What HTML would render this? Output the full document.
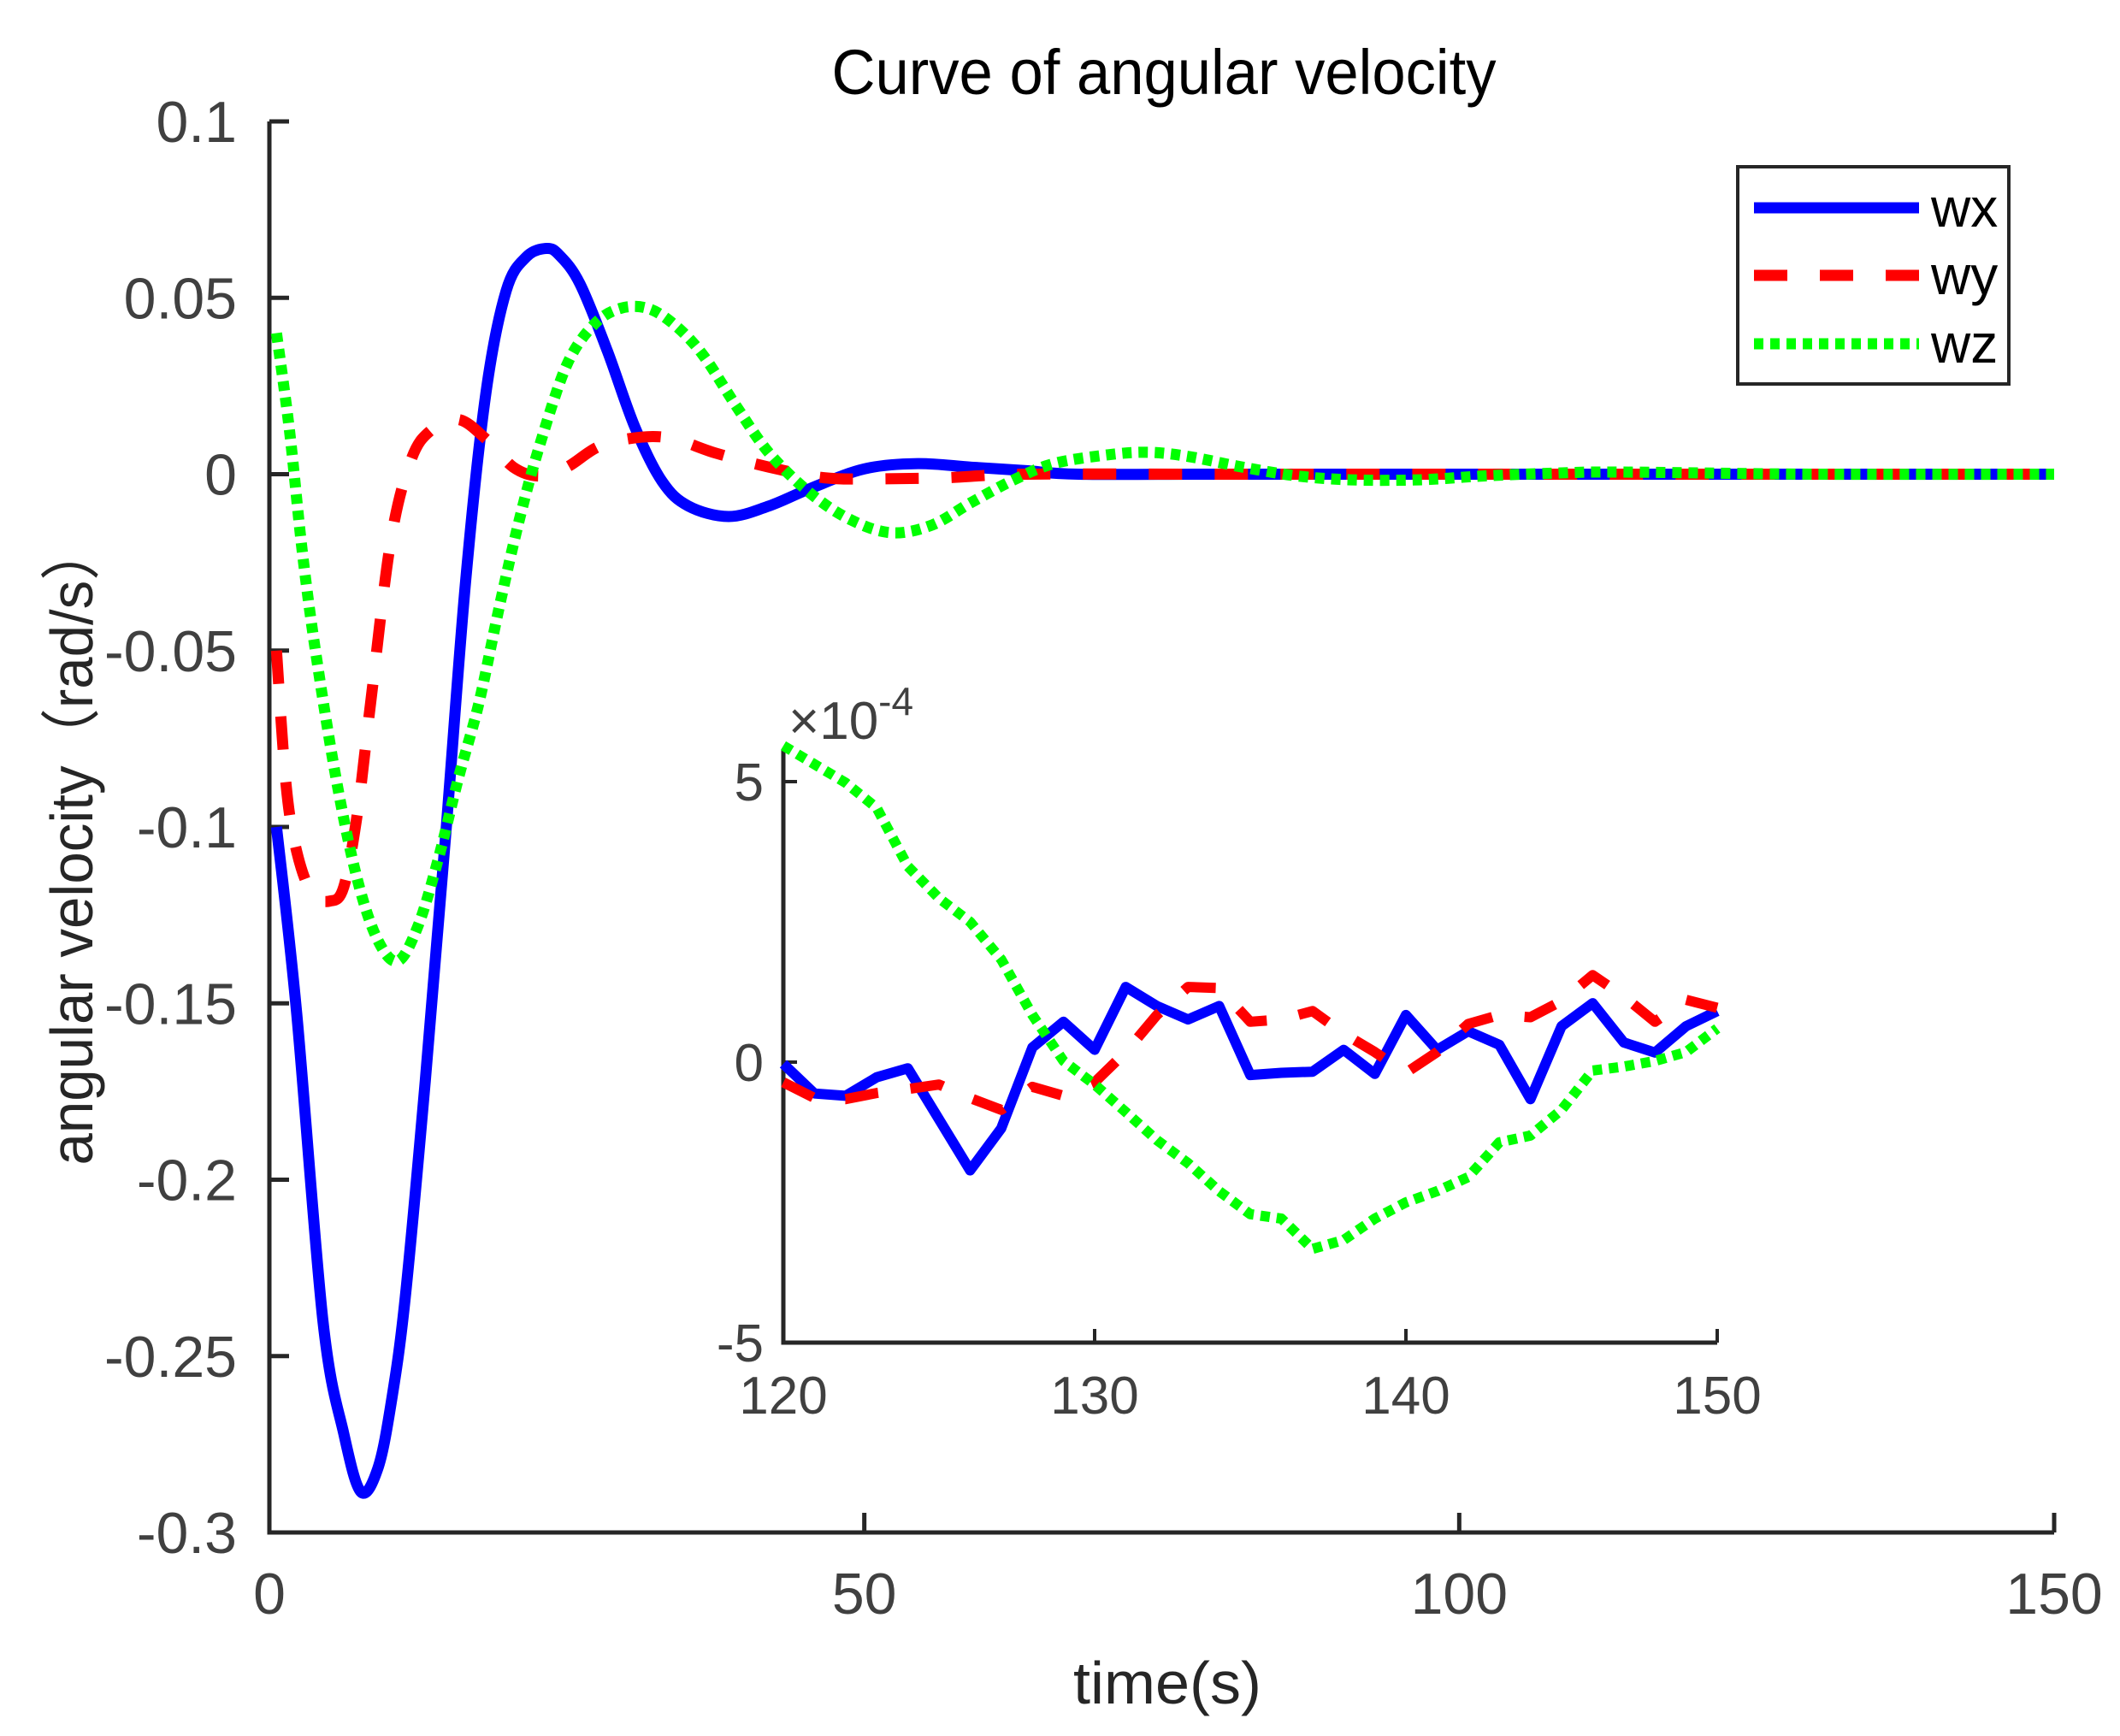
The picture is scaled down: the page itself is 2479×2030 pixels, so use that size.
<!DOCTYPE html>
<html><head><meta charset="utf-8"><style>
html,body{margin:0;padding:0;background:#fff;}
svg{display:block;}
text{font-family:"Liberation Sans","Noto Sans CJK SC",sans-serif;}
</style></head>
<body>
<svg id="chart" width="2479" height="2030" viewBox="0 0 2479 2030" xmlns="http://www.w3.org/2000/svg">
<rect width="2479" height="2030" fill="#fff"/>
<text x="1361" y="110" font-size="74" text-anchor="middle" textLength="777" lengthAdjust="spacingAndGlyphs" fill="#000">Curve of angular velocity</text>
<text x="1365" y="1992" font-size="70" text-anchor="middle" textLength="220" lengthAdjust="spacingAndGlyphs" fill="#262626">time(s)</text>
<text transform="translate(108,987) rotate(-90)" font-size="70" text-anchor="middle" textLength="751" lengthAdjust="spacingAndGlyphs" fill="#262626">angular velocity（rad/s）</text>
<g id="main"></g>
<g id="inset"></g>
<g id="legend">
<rect x="2032" y="195" width="317" height="254" fill="#fff" stroke="#262626" stroke-width="4"/>
<line x1="2051" y1="243" x2="2244" y2="243" stroke="#0000ff" stroke-width="13"/>
<text x="2258" y="265" font-size="64" fill="#000">wx</text>
<line x1="2051" y1="322" x2="2244" y2="322" stroke="#ff0000" stroke-width="13" stroke-dasharray="39,38"/>
<text x="2258" y="344" font-size="64" fill="#000">wy</text>
<line x1="2051" y1="402" x2="2244" y2="402" stroke="#00ff00" stroke-width="13" stroke-dasharray="11,8"/>
<text x="2258" y="424" font-size="64" fill="#000">wz</text>
</g>
</svg>
<script>
// main chart data
const mainXTicks = [0, 50, 100, 150];
const mainYTicks = [0.1, 0.05, 0, -0.05, -0.1, -0.15, -0.2, -0.25, -0.3];
const mainYTickLabels = ["0.1", "0.05", "0", "-0.05", "-0.1", "-0.15", "-0.2", "-0.25", "-0.3"];
const wxT = [0.6,2.3,4.5,6.25,7.7,9.1,10.2,11.4,13.1,14.8,16.5,18.2,19.9,21.6,23.3,24.4,26.1,28.4,30.7,33,35.2,38.6,42,45.5,50,54.5,59,63.6,68,80,100,120,150];
const wxV = [-0.1,-0.153,-0.24,-0.272,-0.2885,-0.282,-0.264,-0.234,-0.172,-0.103,-0.03,0.023,0.052,0.0616,0.064,0.062,0.054,0.035,0.0135,-0.002,-0.009,-0.012,-0.009,-0.004,0.0015,0.003,0.002,0.001,0,0,0,0,0];
const wyT = [0.6,1.4,2.3,3.6,5.1,6.25,7.4,8.5,10.2,11.9,13.6,15.9,18.2,20.5,22.7,25,27.8,31.25,34,37.5,42,46.6,51,56.8,63.6,80,100,120,150];
const wyV = [-0.05,-0.088,-0.107,-0.119,-0.121,-0.117,-0.096,-0.065,-0.019,0.004,0.0125,0.0155,0.01,0.002,-0.0005,0.002,0.008,0.0105,0.01,0.006,0.002,-0.001,-0.0013,-0.001,0,0,0,0,0];
const wzT = [0.6,1.7,2.8,4,5.7,7.4,9.1,10.8,12.5,14.2,15.9,17.6,19.3,21,22.7,25,27.3,29.5,31.8,34,36.4,39.2,42,45.5,48.9,52.3,55.7,59,62.5,65.9,70.5,73.9,77.3,81.8,86.4,90.9,96.6,102,108,113.6,130,150];
const wzV = [0.04,0.012,-0.023,-0.053,-0.088,-0.115,-0.132,-0.138,-0.128,-0.109,-0.086,-0.065,-0.038,-0.013,0.008,0.031,0.0425,0.047,0.047,0.0425,0.034,0.0195,0.006,-0.0055,-0.013,-0.0166,-0.0144,-0.008,-0.0017,0.003,0.0055,0.0062,0.005,0.002,-0.0005,-0.0016,-0.0016,-0.0005,0.0003,0.0006,0,0];
// inset data (x10^-4)
const insT = [120,121,122,123,124,125,126,127,128,129,130,131,132,133,134,135,136,137,138,139,140,141,142,143,144,145,146,147,148,149,150];
const insXTicks = [120, 130, 140, 150];
const insYTicks = [5, 0, -5];
const insWx = [-0.03,-0.56,-0.6,-0.27,-0.11,-1.02,-1.93,-1.18,0.26,0.72,0.22,1.34,1.0,0.76,1.0,-0.23,-0.19,-0.17,0.22,-0.21,0.84,0.22,0.55,0.31,-0.66,0.64,1.05,0.35,0.17,0.64,0.91];
const insWy = [-0.36,-0.64,-0.66,-0.55,-0.48,-0.40,-0.64,-0.85,-0.44,-0.6,-0.36,0.18,0.84,1.34,1.32,0.72,0.76,0.91,0.51,0.18,-0.19,0.18,0.68,0.84,0.80,1.09,1.55,1.17,0.72,1.11,0.97];
const insWz = [5.64,5.31,4.98,4.53,3.49,2.92,2.5,1.83,0.84,0.02,-0.40,-0.89,-1.39,-1.80,-2.30,-2.71,-2.79,-3.33,-3.17,-2.79,-2.50,-2.30,-2.05,-1.43,-1.31,-0.85,-0.15,-0.08,0.02,0.18,0.60];

const NS = "http://www.w3.org/2000/svg";
function mk(tag, attrs, parent) {
  const e = document.createElementNS(NS, tag);
  for (const k in attrs) e.setAttribute(k, attrs[k]);
  parent.appendChild(e);
  return e;
}
const mx = v => 315 + (v - 0) / 150 * (2402 - 315);
const my = v => 142 + (0.1 - v) / 0.4 * (1792 - 142);
const ix = v => 916 + (v - 120) / 30 * (2008 - 916);
const iy = v => 914 + (5 - v) / 10 * (1570 - 914);

function series(g, ts, vs, fx, fy, color, dash, w, name, smooth) {
  const P = ts.map((t, i) => [fx(t), fy(vs[i])]);
  let d = "M" + P[0][0].toFixed(1) + "," + P[0][1].toFixed(1);
  for (let i = 1; i < P.length; i++) {
    if (smooth) {
      const p0 = P[Math.max(0, i - 2)], p1 = P[i - 1], p2 = P[i], p3 = P[Math.min(P.length - 1, i + 1)];
      const c1 = [p1[0] + (p2[0] - p0[0]) / 6, p1[1] + (p2[1] - p0[1]) / 6];
      const c2 = [p2[0] - (p3[0] - p1[0]) / 6, p2[1] - (p3[1] - p1[1]) / 6];
      d += ` C${c1[0].toFixed(1)},${c1[1].toFixed(1)} ${c2[0].toFixed(1)},${c2[1].toFixed(1)} ${p2[0].toFixed(1)},${p2[1].toFixed(1)}`;
    } else {
      d += ` L${P[i][0].toFixed(1)},${P[i][1].toFixed(1)}`;
    }
  }
  const p = mk("path", {d: d, fill: "none", stroke: color, "stroke-width": w, "stroke-linejoin": "round"}, g);
  if (dash) p.setAttribute("stroke-dasharray", dash);
  
  
}

const gm = document.getElementById("main");
const axm = mk("path", {d: `M${mx(0)},${my(0.1)} L${mx(0)},${my(-0.3)} L${mx(150)},${my(-0.3)}`, fill: "none", stroke: "#262626", "stroke-width": 5}, gm);


mainYTicks.forEach((v, i) => {
  const t = mk("line", {x1: mx(0), x2: mx(0) + 23, y1: my(v), y2: my(v), stroke: "#262626", "stroke-width": 5}, gm);
  
  
  const l = mk("text", {x: 277, y: my(v) + 24, "font-size": 68, "text-anchor": "end", fill: "#404040"}, gm);
  l.textContent = mainYTickLabels[i];
  
  
});
mainXTicks.forEach(v => {
  const t = mk("line", {x1: mx(v), x2: mx(v), y1: my(-0.3), y2: my(-0.3) - 23, stroke: "#262626", "stroke-width": 5}, gm);
  
  
  const l = mk("text", {x: mx(v), y: 1887, "font-size": 68, "text-anchor": "middle", fill: "#404040"}, gm);
  l.textContent = String(v);
  
  
});
series(gm, wxT, wxV, mx, my, "#0000ff", null, 13, "series-wx", true);
series(gm, wyT, wyV, mx, my, "#ff0000", "39,38", 13, "series-wy", true);
series(gm, wzT, wzV, mx, my, "#00ff00", "11,8", 13, "series-wz", true);

const gi = document.getElementById("inset");
const axi = mk("path", {d: `M${ix(120)},877 L${ix(120)},${iy(-5)} L${ix(150)},${iy(-5)}`, fill: "none", stroke: "#262626", "stroke-width": 5}, gi);


insYTicks.forEach(v => {
  const t = mk("line", {x1: ix(120), x2: ix(120) + 16, y1: iy(v), y2: iy(v), stroke: "#262626", "stroke-width": 4}, gi);
  
  
  const l = mk("text", {x: 893, y: iy(v) + 22, "font-size": 62, "text-anchor": "end", fill: "#404040"}, gi);
  l.textContent = String(v);
  
  
});
insXTicks.forEach(v => {
  const t = mk("line", {x1: ix(v), x2: ix(v), y1: iy(-5), y2: iy(-5) - 16, stroke: "#262626", "stroke-width": 4}, gi);
  
  
  const l = mk("text", {x: ix(v), y: 1653, "font-size": 62, "text-anchor": "middle", fill: "#404040"}, gi);
  l.textContent = String(v);
  
  
});
const ex = mk("text", {x: 922, y: 864, "font-size": 62, fill: "#404040"}, gi);


ex.innerHTML = '×10<tspan dy="-28" font-size="46">-4</tspan>';
series(gi, insT, insWx, ix, iy, "#0000ff", null, 12, "inset-series-wx", false);
series(gi, insT, insWy, ix, iy, "#ff0000", "39,38", 12, "inset-series-wy", false);
series(gi, insT, insWz, ix, iy, "#00ff00", "11,8", 12, "inset-series-wz", false);
</script>
</body></html>
